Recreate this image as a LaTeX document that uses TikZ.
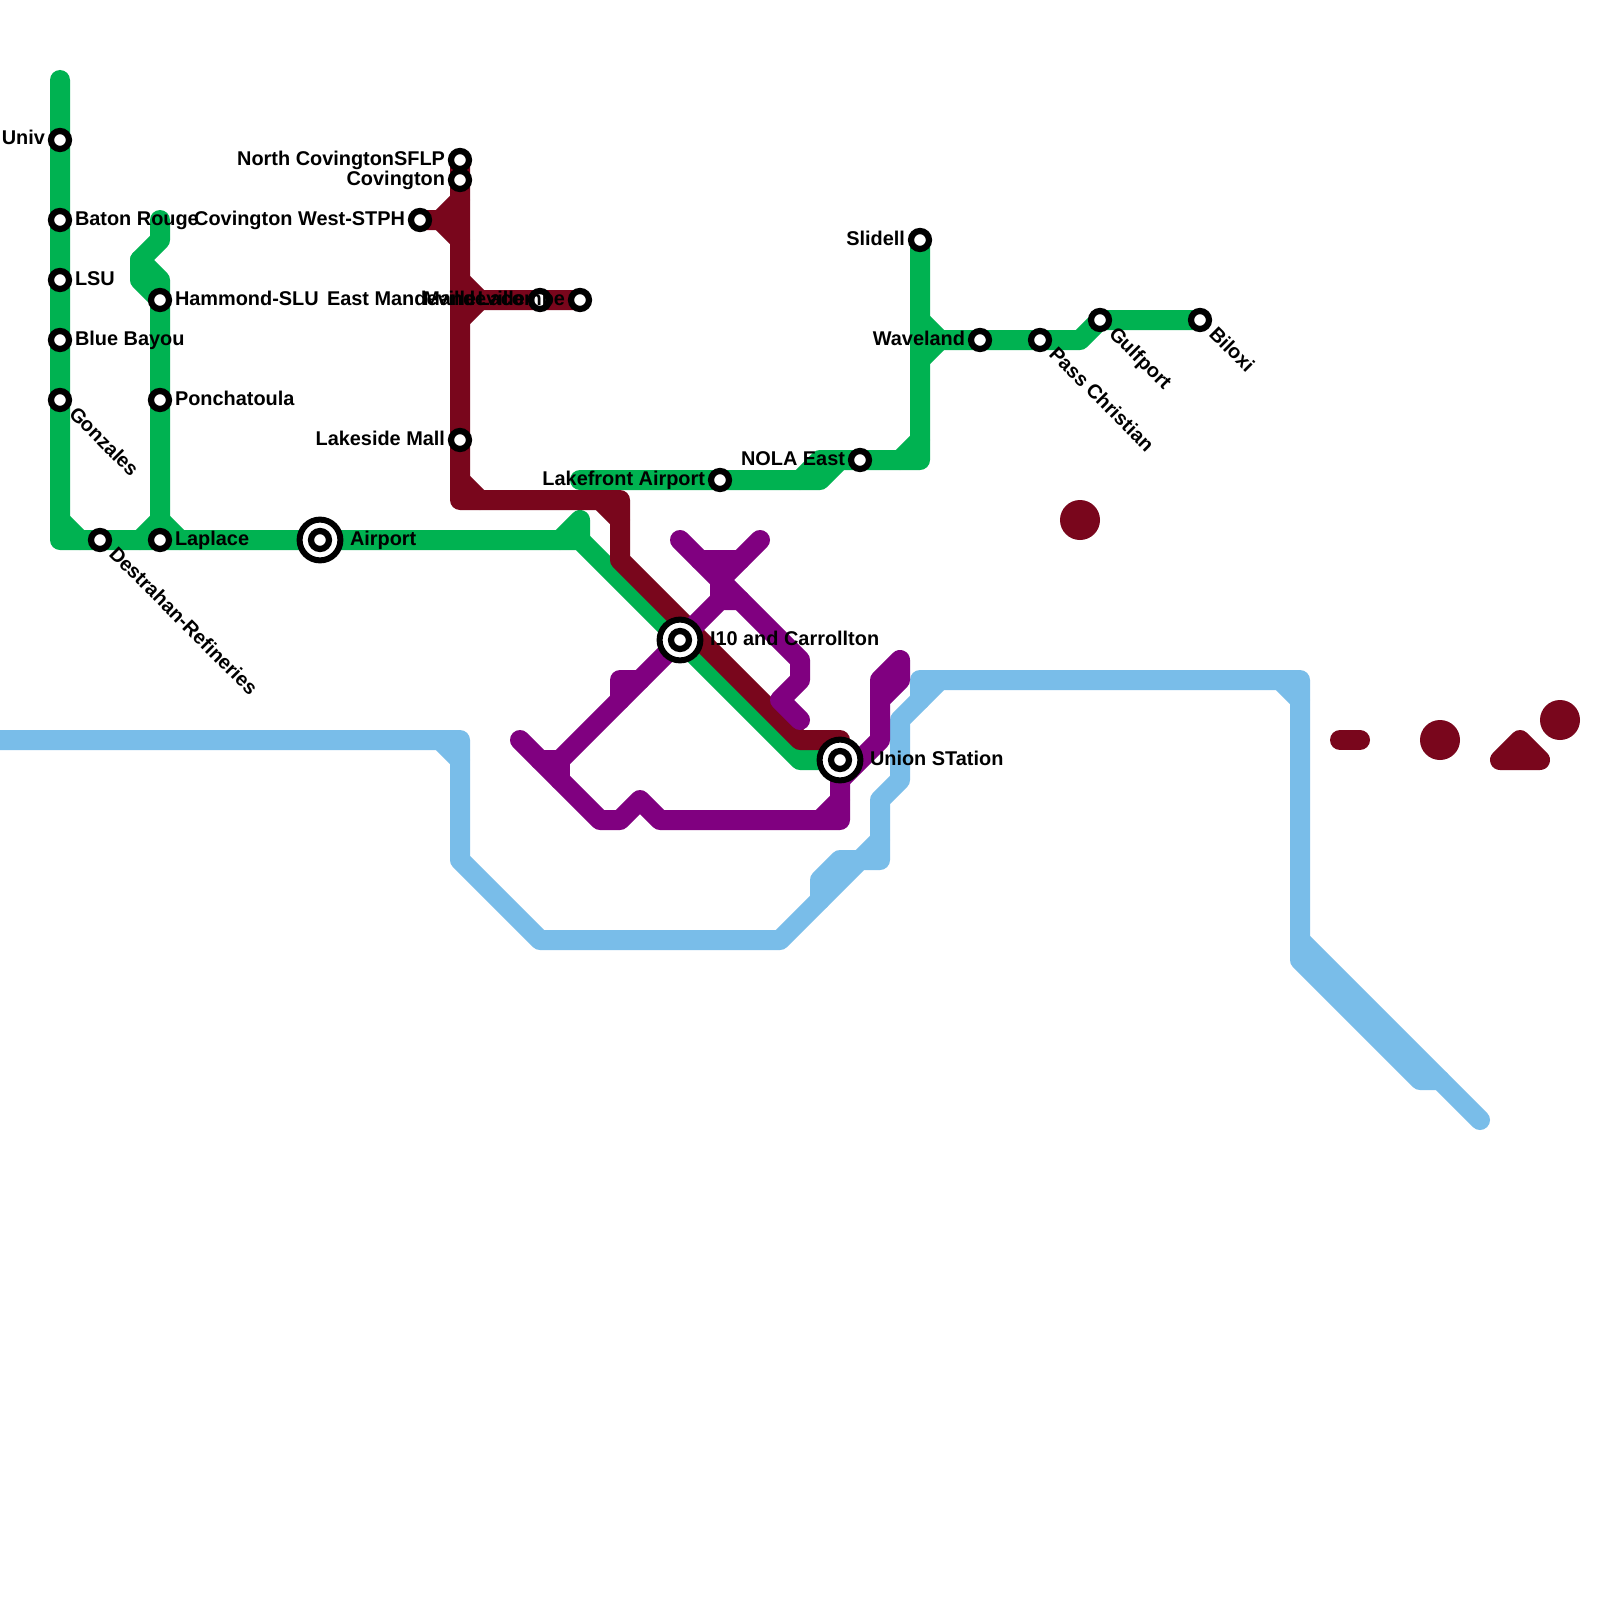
\documentclass[tikz,border=0pt]{standalone}
\usepackage{fontspec}
\setmainfont{Liberation Sans}
\definecolor{gline}{HTML}{00B251}
\definecolor{mline}{HTML}{79061C}
\definecolor{pline}{HTML}{800080}
\definecolor{bline}{HTML}{79BDE9}
\pgfdeclarelayer{bg}
\pgfsetlayers{bg,main}
\tikzset{
  railway/.style={line width=10pt,line cap=round,line join=round},
  gl/.style={railway,draw=gline},
  ml/.style={railway,draw=mline},
  pl/.style={railway,draw=pline},
  bl/.style={railway,draw=bline},
  stop/.style={circle,draw=black,fill=white,line width=3.1pt,minimum size=9pt,inner sep=0pt,outer sep=0pt},
  hub/.style={circle,draw=black,fill=white,line width=3pt,minimum size=20.4pt,inner sep=0pt,outer sep=0pt},
  lab/.style={font=\bfseries\fontsize{9.95pt}{11pt}\selectfont,inner sep=0pt,outer sep=0pt,text=black},
  labl/.style={lab,anchor=base west},
  labr/.style={lab,anchor=base east},
  labd/.style={lab,anchor=base west,rotate=-45},
}
\begin{document}
\begin{tikzpicture}[x=0.5pt,y=-0.5pt]
\useasboundingbox (0,0) rectangle (1600,1600);
% waypoints
\foreach \x/\y in {60/80,60/520,60/540,80/540,140/540,140/260,140/280,160/220,160/240,160/280,160/520,180/540,
  560/540,580/520,580/540,800/760,580/480,800/480,820/480,820/460,840/460,900/460,920/460,920/440,920/320,920/360,940/340,1080/340,
  440/220,460/200,460/240,460/280,480/300,460/320,460/480,460/500,480/500,600/500,620/500,620/520,620/560,800/740,840/740,
  520/740,600/820,620/820,640/800,660/820,820/820,840/800,840/820,840/780,540/760,560/760,560/780,620/700,620/680,640/680,
  720/600,740/600,720/560,680/540,700/560,740/560,760/540,720/580,800/660,800/680,780/700,800/720,
  880/740,880/680,900/660,900/680,880/700,
  0/740,440/740,460/740,460/760,460/860,540/940,780/940,860/860,880/860,880/840,840/860,820/880,820/900,880/800,900/780,900/720,920/700,940/680,920/680,1280/680,1300/680,1300/700,1300/960,1300/940,1420/1080,1440/1080,1480/1120,
  1340/740,1360/740,1500/760,1520/740,1540/760}
  {\coordinate (p\x-\y) at (\x,\y);}
% stations
\node[stop] (univ) at (60,140) {};
\node[stop] (baton) at (60,220) {};
\node[stop] (lsu) at (60,280) {};
\node[stop] (bayou) at (60,340) {};
\node[stop] (gonz) at (60,400) {};
\node[stop] (destr) at (100,540) {};
\node[stop] (laplace) at (160,540) {};
\node[stop] (hammond) at (160,300) {};
\node[stop] (poncha) at (160,400) {};
\node[hub] (airport) at (320,540) {};
\node[stop] (airportin) at (320,540) {};
\node[stop] (ncov) at (460,160) {};
\node[stop] (cov) at (460,180) {};
\node[stop] (covw) at (420,220) {};
\node[stop] (mand) at (540,300) {};
\node[stop] (lacombe) at (580,300) {};
\node[stop] (lakeside) at (460,440) {};
\node[stop] (lakefront) at (720,480) {};
\node[stop] (nola) at (860,460) {};
\node[stop] (slidell) at (920,240) {};
\node[stop] (waveland) at (980,340) {};
\node[stop] (pass) at (1040,340) {};
\node[stop] (gulf) at (1100,320) {};
\node[stop] (biloxi) at (1200,320) {};
\node[hub] (ten) at (680,640) {};
\node[stop] (tenin) at (680,640) {};
\node[hub] (union) at (840,760) {};
\node[stop] (unionin) at (840,760) {};
% lines
\begin{pgfonlayer}{bg}
\fill[white] (0,0) rectangle (1600,1600);
\draw[gl] (p60-80) -- (univ.center) -- (baton.center) -- (lsu.center) -- (bayou.center) -- (gonz.center) -- (p60-540) -- (destr.center) -- (laplace.center) -- (airport.center) -- (p580-540) -- (ten.center) -- (p800-760) -- (union.center);
\draw[gl] (p60-520) -- (p80-540);
\draw[gl] (p160-220) -- (p160-240) -- (p140-260) -- (p140-280) -- (hammond.center) -- (poncha.center) -- (laplace.center);
\draw[gl] (p140-260) -- (p160-280) -- (hammond.center);
\draw[gl] (p160-520) -- (p140-540);
\draw[gl] (p160-520) -- (p180-540);
\draw[gl] (p560-540) -- (p580-520) -- (p580-540);
\draw[gl] (p580-480) -- (lakefront.center) -- (p820-480) -- (p840-460) -- (nola.center) -- (p920-460) -- (slidell.center);
\draw[gl] (p800-480) -- (p820-460) -- (p840-460);
\draw[gl] (p900-460) -- (p920-440);
\draw[gl] (p920-320) -- (p940-340) -- (p920-360);
\draw[gl] (p940-340) -- (waveland.center) -- (pass.center) -- (p1080-340) -- (gulf.center) -- (biloxi.center);
\draw[ml] (ncov.center) -- (cov.center) -- (lakeside.center) -- (p460-500) -- (p620-500) -- (p620-560) -- (p800-740) -- (p840-740) -- (union.center);
\draw[ml] (covw.center) -- (p440-220) -- (p460-200);
\draw[ml] (p440-220) -- (p460-240);
\draw[ml] (p460-280) -- (p480-300) -- (mand.center) -- (lacombe.center);
\draw[ml] (p460-320) -- (p480-300);
\draw[ml] (p460-480) -- (p480-500);
\draw[ml] (p600-500) -- (p620-520);
\draw[bl] (p0-740) -- (p460-740) -- (p460-860) -- (p540-940) -- (p780-940) -- (p860-860) -- (p880-860) -- (p880-800) -- (p900-780) -- (p900-720) -- (p920-700) -- (p920-680) -- (p1300-680) -- (p1300-960) -- (p1420-1080) -- (p1440-1080);
\draw[bl] (p440-740) -- (p460-760);
\draw[bl] (p880-840) -- (p860-860) -- (p840-860) -- (p820-880) -- (p820-900);
\draw[bl] (p920-700) -- (p940-680);
\draw[bl] (p1280-680) -- (p1300-700);
\draw[bl] (p1300-940) -- (p1480-1120);
\draw[pl] (p520-740) -- (p600-820) -- (p620-820) -- (p640-800) -- (p660-820) -- (p840-820) -- (union.center);
\draw[pl] (p820-820) -- (p840-800);
\draw[pl] (p540-760) -- (p560-760) -- (p560-780);
\draw[pl] (p560-760) -- (ten.center) -- (p720-600) -- (p740-600);
\draw[pl] (p620-700) -- (p620-680) -- (p640-680);
\draw[pl] (p720-560) -- (p720-600);
\draw[pl] (p700-560) -- (p740-560);
\draw[pl] (p680-540) -- (p800-660) -- (p800-680) -- (p780-700) -- (p800-720);
\draw[pl] (p760-540) -- (p720-580);
\draw[pl] (p840-780) -- (p880-740) -- (p880-680) -- (p900-660) -- (p900-680) -- (p880-700);
\draw[ml] (p1340-740) -- (p1360-740);
\draw[ml] (p1500-760) -- (p1520-740) -- (p1540-760) -- cycle;
\fill[mline] (1080,520) circle (20);
\fill[mline] (1440,740) circle (20);
\fill[mline] (1560,720) circle (20);
\end{pgfonlayer}
% labels
\node[labr] (tuniv) at (45,145) {Univ};
\node[labl] (tbaton) at (75,225) {Baton Rouge};
\node[labl] (tlsu) at (75,285) {LSU};
\node[labl] (tbayou) at (75,345) {Blue Bayou};
\node[labd] (tgonz) at (68,415) {Gonzales};
\node[labd] (tdestr) at (108,555) {Destrahan-Refineries};
\node[labl] (tlaplace) at (175,545) {Laplace};
\node[labl] (thammond) at (175,305) {Hammond-SLU};
\node[labl] (tponcha) at (175,405) {Ponchatoula};
\node[labl] (tairport) at (350,545) {Airport};
\node[labr] (tncov) at (445,165) {North CovingtonSFLP};
\node[labr] (tcov) at (445,185) {Covington};
\node[labr] (tcovw) at (405,225) {Covington West-STPH};
\node[labl] (teast) at (327,305) {East Mandeville};
\node[labr] (tmand) at (525,305) {Mandeville};
\node[labr] (tlacombe) at (565,305) {Lacombe};
\node[labr] (tlakeside) at (445,445) {Lakeside Mall};
\node[labr] (tlakefront) at (705,485) {Lakefront Airport};
\node[labr] (tnola) at (845,465) {NOLA East};
\node[labr] (tslidell) at (905,245) {Slidell};
\node[labr] (twaveland) at (965,345) {Waveland};
\node[labd] (tpass) at (1048,355) {Pass Christian};
\node[labd] (tgulf) at (1108,335) {Gulfport};
\node[labd] (tbiloxi) at (1208,335) {Biloxi};
\node[labl] (tten) at (710,645) {I10 and Carrollton};
\node[labl] (tunion) at (870,765) {Union STation};
\end{tikzpicture}
\end{document}
